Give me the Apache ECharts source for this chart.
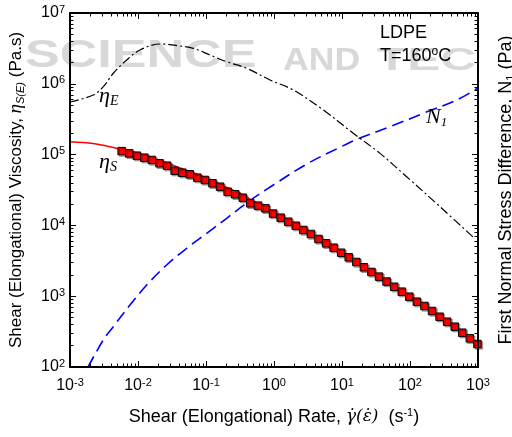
<!DOCTYPE html>
<html>
<head>
<meta charset="utf-8">
<script src="https://cdn.jsdelivr.net/npm/echarts@6/dist/echarts.min.js"></script>
<style>
  html, body { margin: 0; padding: 0; background: #fff; }
  #chart { width: 512px; height: 437px; }
</style>
</head>
<body>
<div id="chart"></div>
<script>
// shear viscosity measurements (squares)
const shearRate = [0.00575, 0.00743, 0.00962, 0.01242, 0.01603, 0.02075, 0.02679, 0.03459, 0.04477, 0.05781,
  0.07464, 0.09638, 0.1247, 0.1611, 0.2080, 0.2692, 0.3475, 0.4487, 0.5808, 0.7499,
  0.9683, 1.253, 1.618, 2.089, 2.704, 3.491, 4.508, 5.834, 7.534, 9.727,
  12.56, 16.26, 20.99, 27.10, 35.08, 45.29, 58.48, 75.68, 97.72, 126.2,
  163.3, 210.9, 272.3, 351.6, 455.0, 587.5, 758.6, 981.7];
const shearEta = [1.12e5, 1.04e5, 9.65e4, 9.04e4, 8.39e4, 7.54e4, 6.97e4, 5.92e4, 5.55e4, 5.27e4,
  4.72e4, 4.38e4, 3.93e4, 3.52e4, 2.99e4, 2.75e4, 2.46e4, 2.05e4, 1.90e4, 1.74e4,
  1.47e4, 1.285e4, 1.127e4, 9.9e3, 8.61e3, 7.56e3, 6.43e3, 5.58e3, 4.84e3, 4.11e3,
  3.54e3, 3.04e3, 2.56e3, 2.20e3, 1.89e3, 1.61e3, 1.36e3, 1.158e3, 984, 836,
  727, 618, 513, 436, 371, 305, 254, 211];

// model fit of shear viscosity (red line)
const fitRate = [0.001, 0.00218, 0.00387, 0.01197, 0.02355, 0.0371, 0.0729, 0.1607, 0.3535, 0.5567,
  1.718, 6.66, 25.8, 100, 387, 1000];
const fitEta = [1.52e5, 1.435e5, 1.29e5, 9.87e4, 7.94e4, 6.75e4, 5.27e4, 3.81e4, 2.69e4, 2.05e4,
  1.10e4, 4.87e3, 2.27e3, 975, 418, 198];

// elongational viscosity (dash-dot)
const elongRate = [0.001, 0.0022, 0.00309, 0.00433, 0.00683, 0.01069, 0.02106, 0.0415, 0.065, 0.1145,
  0.2013, 0.397, 0.873, 1.923, 5.31, 14.66, 36.2, 89.3, 276, 853];
const elongEta = [5.53e5, 6.95e5, 9.1e5, 1.41e6, 2.17e6, 3.0e6, 3.65e6, 3.42e6, 3.17e6, 2.55e6,
  2.05e6, 1.655e6, 1.13e6, 8.17e5, 4.27e5, 2.0e5, 1.04e5, 4.87e4, 1.84e4, 6.79e3];

// first normal stress difference (blue dashed)
const n1Rate = [0.00184, 0.00309, 0.00433, 0.00762, 0.01343, 0.0264, 0.052, 0.1024, 0.2013, 0.419,
  0.977, 3.03, 9.35, 16.4, 50.8, 157, 486, 1000];
const n1Values = [100, 241, 371, 751, 1.44e3, 2.76e3, 4.75e3, 7.73e3, 1.26e4, 2.16e4,
  3.72e4, 7.36e4, 1.27e5, 1.64e5, 2.48e5, 3.83e5, 5.9e5, 8.73e5];

const xTicks = [1e-3, 1e-2, 1e-1, 1, 10, 100, 1000];
const xTickExp = ['-3', '-2', '-1', '0', '1', '2', '3'];
const yTicks = [1e2, 1e3, 1e4, 1e5, 1e6, 1e7];
const yTickExp = ['2', '3', '4', '5', '6', '7'];

const SANS = 'Liberation Sans, Arial, sans-serif';
const SERIF = 'Liberation Serif, Times New Roman, serif';
const MATH = 'DejaVu Serif, serif';

function minorTicks(ticks) {
  const out = [];
  for (let i = 0; i < ticks.length - 1; i++) {
    for (let m = 2; m <= 9; m++) out.push(ticks[i] * m);
  }
  return out;
}

function expLabel(ticks, exps) {
  return (v) => {
    const i = ticks.findIndex(t => Math.abs(Math.log10(t) - Math.log10(v)) < 1e-6);
    return i < 0 ? '' : '{b|10}{s|' + exps[i] + '}';
  };
}

const numRich = {
  b: { fontFamily: SANS, fontSize: 16, lineHeight: 18, color: '#000' },
  s: { fontFamily: SANS, fontSize: 11, lineHeight: 11, verticalAlign: 'top', color: '#000' },
};

function logAxis(pos, ticks, major, extra) {
  return Object.assign({
    type: 'log', logBase: 10,
    position: pos,
    min: ticks[0], max: ticks[ticks.length - 1],
    axisLine: { show: major, onZero: false, lineStyle: { color: '#000', width: 2 } },
    axisTick: {
      show: true, inside: true, length: major ? 6 : 3.5,
      customValues: major ? ticks : minorTicks(ticks),
      lineStyle: { color: '#000', width: 1 },
    },
    axisLabel: { show: false },
    splitLine: { show: false },
    minorTick: { show: false },
    z: 5,
  }, extra || {});
}

const chart = echarts.init(document.getElementById('chart'), null, { renderer: 'canvas' });

const labelRich = (size) => ({
  t: { fontFamily: SANS, fontSize: size, lineHeight: 20, color: '#000' },
  g: { fontFamily: SERIF, fontStyle: 'italic', fontSize: size + 2, lineHeight: 20, color: '#000' },
  m: { fontFamily: MATH, fontStyle: 'italic', fontSize: size - 1, lineHeight: 20, color: '#000' },
  p: { fontFamily: SANS, fontSize: 11, lineHeight: 11, verticalAlign: 'top', color: '#000' },
  u: { fontFamily: SANS, fontStyle: 'italic', fontSize: 11, lineHeight: 11, verticalAlign: 'bottom', color: '#000' },
  n: { fontFamily: SANS, fontSize: 11, lineHeight: 11, verticalAlign: 'bottom', color: '#000' },
});

const wm = 'rgba(200,200,200,0.7)';

chart.setOption({
  animation: false,
  backgroundColor: '#fff',
  grid: { left: 70, right: 34, top: 13, bottom: 70, containLabel: false, outerBoundsMode: 'none' },
  xAxis: [
    logAxis('bottom', xTicks, true, {
      axisLabel: {
        show: true, margin: 10, customValues: xTicks,
        formatter: expLabel(xTicks, xTickExp), rich: numRich,
      },
      name: '{t|Shear (Elongational) Rate, }{m|γ̇(ε̇)}{t|  (s}{p|-1}{t|)}',
      nameLocation: 'middle', nameGap: 40,
      nameTextStyle: { rich: labelRich(18) },
    }),
    logAxis('bottom', xTicks, false),
    logAxis('top', xTicks, true),
    logAxis('top', xTicks, false),
  ],
  yAxis: [
    logAxis('left', yTicks, true, {
      axisLabel: {
        show: true, margin: 5, customValues: yTicks,
        formatter: expLabel(yTicks, yTickExp), rich: numRich,
      },
      name: '{t|Shear (Elongational) Viscosity, }{g|η}{u|S(E)}{t| (Pa.s)}',
      nameLocation: 'middle', nameGap: 44, nameRotate: 90,
      nameTextStyle: { rich: labelRich(17) },
    }),
    logAxis('left', yTicks, false),
    logAxis('right', yTicks, true, {
      name: '{t|First Normal Stress Difference, N}{n|1}{t| (Pa)}',
      nameLocation: 'middle', nameGap: 18, nameRotate: 90,
      nameTextStyle: { rich: labelRich(18) },
    }),
    logAxis('right', yTicks, false),
  ],
  graphic: [
    // faint watermark of the source page
    { type: 'text', x: 25, y: 38, scaleX: 1.37, silent: true, z: 0,
      style: { text: 'SCIENCE', font: 'bold 38px ' + SANS, fill: wm, lineHeight: 38 } },
    { type: 'text', x: 283, y: 46, scaleX: 1.15, silent: true, z: 0,
      style: { text: 'AND', font: 'bold 31px ' + SANS, fill: wm, lineHeight: 31 } },
    { type: 'text', x: 377, y: 46, scaleX: 1.6, silent: true, z: 0,
      style: { text: 'TEC', font: 'bold 31px ' + SANS, fill: wm, lineHeight: 31 } },
    // curve labels
    { type: 'text', x: 99, y: 84, z: 10,
      style: { text: '{g|η}{s|E}', rich: {
        g: { fontFamily: SERIF, fontStyle: 'italic', fontSize: 22, lineHeight: 24, fill: '#000' },
        s: { fontFamily: SERIF, fontStyle: 'italic', fontSize: 14, lineHeight: 14, verticalAlign: 'bottom', fill: '#000' },
      } } },
    { type: 'text', x: 99, y: 150, z: 10,
      style: { text: '{g|η}{s|S}', rich: {
        g: { fontFamily: SERIF, fontStyle: 'italic', fontSize: 22, lineHeight: 24, fill: '#000' },
        s: { fontFamily: SERIF, fontStyle: 'italic', fontSize: 14, lineHeight: 14, verticalAlign: 'bottom', fill: '#000' },
      } } },
    { type: 'text', x: 426, y: 105, z: 10,
      style: { text: '{g|N}{s|1}', rich: {
        g: { fontFamily: SERIF, fontStyle: 'italic', fontSize: 22, lineHeight: 24, fill: '#000' },
        s: { fontFamily: SERIF, fontStyle: 'italic', fontSize: 13, lineHeight: 13, verticalAlign: 'bottom', fill: '#000' },
      } } },
    { type: 'text', x: 380, y: 23, z: 10,
      style: { text: 'LDPE', font: '18px ' + SANS, fill: '#000', lineHeight: 20 } },
    { type: 'text', x: 380, y: 46, z: 10,
      style: { text: '{t|T=160}{o|o}{t|C}', rich: {
        t: { fontFamily: SANS, fontSize: 18, lineHeight: 20, fill: '#000' },
        o: { fontFamily: SANS, fontSize: 12, lineHeight: 12, verticalAlign: 'top', fill: '#000' },
      } } },
  ],
  series: [
    {
      name: 'N1', type: 'line', xAxisIndex: 0, yAxisIndex: 2,
      data: n1Rate.map((x, i) => [x, n1Values[i]]),
      smooth: 0.35, showSymbol: false, z: 2,
      lineStyle: { color: '#0000ff', width: 1.6, type: [12, 6] },
    },
    {
      name: 'etaE', type: 'line', xAxisIndex: 0, yAxisIndex: 0,
      data: elongRate.map((x, i) => [x, elongEta[i]]),
      smooth: 0.35, showSymbol: false, z: 2,
      lineStyle: { color: '#000', width: 1.2, type: [9, 3, 2, 3] },
    },
    {
      name: 'fit', type: 'line', xAxisIndex: 0, yAxisIndex: 0,
      data: fitRate.map((x, i) => [x, fitEta[i]]),
      smooth: 0.35, showSymbol: false, z: 3,
      lineStyle: { color: '#ff0000', width: 1.5 },
    },
    {
      name: 'etaS', type: 'scatter', xAxisIndex: 0, yAxisIndex: 0,
      data: shearRate.map((x, i) => [x, shearEta[i]]),
      symbol: 'rect', symbolSize: 7.5, z: 4,
      itemStyle: {
        color: '#ff0000', borderColor: '#000', borderWidth: 1, opacity: 1,
        shadowColor: 'rgba(0,0,0,0.3)', shadowOffsetX: 1.5, shadowOffsetY: 1.5, shadowBlur: 0,
      },
    },
  ],
});
</script>
</body>
</html>
